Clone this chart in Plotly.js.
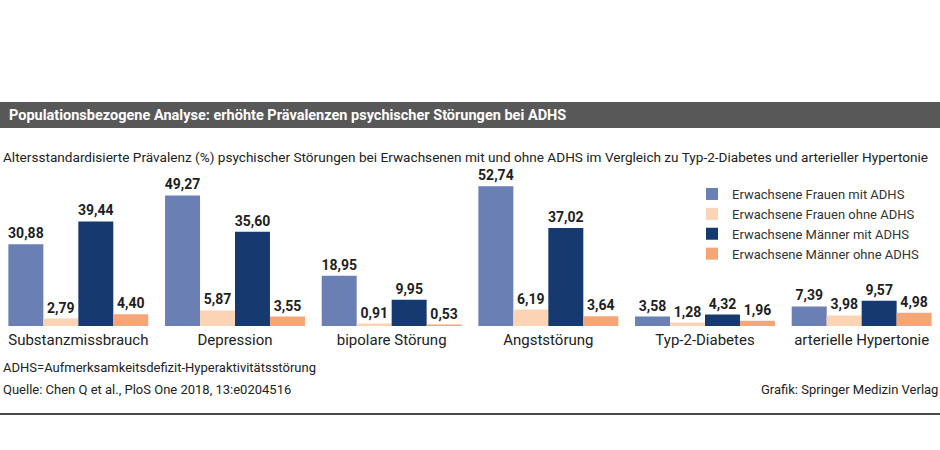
<!DOCTYPE html>
<html>
<head>
<meta charset="utf-8">
<script src="https://cdn.plot.ly/plotly-3.0.1.min.js"></script>
<style>
  html, body { margin: 0; padding: 0; background: #fff; }
  #chart { width: 940px; height: 450px; }
</style>
</head>
<body>
<div id="chart"></div>
<script>
// Kategorien (x-Achse)
const categories = [
  "Substanzmissbrauch", "Depression", "bipolare Störung",
  "Angststörung", "Typ-2-Diabetes", "arterielle Hypertonie"
];

// Altersstandardisierte Prävalenz (%) je Gruppe
const frauenMitADHS  = [30.88, 49.27, 18.95, 52.74, 3.58, 7.39];
const frauenOhneADHS = [2.79, 5.87, 0.91, 6.19, 1.28, 3.98];
const maennerMitADHS = [39.44, 35.60, 9.95, 37.02, 4.32, 9.57];
const maennerOhneADHS = [4.40, 3.55, 0.53, 3.64, 1.96, 4.98];

const seriesNames = [
  "Erwachsene Frauen mit ADHS",
  "Erwachsene Frauen ohne ADHS",
  "Erwachsene Männer mit ADHS",
  "Erwachsene Männer ohne ADHS"
];
const seriesColors = ["#6a7fb3", "#fbd3b5", "#163a70", "#f5a677"];

// Seitengeometrie in Pixeln
const W = 940, H = 450;
const M = { l: 0, r: 0, t: 167, b: 124 };
const plotH = H - M.t - M.b;

// Pixelkoordinate (von oben) -> Papierkoordinate
const py = p => (H - M.b - p) / plotH;
const px = p => (p - M.l) / (W - M.l - M.r);

const fmt = v => v.toFixed(2).replace(".", ",");

const seriesValues = [frauenMitADHS, frauenOhneADHS, maennerMitADHS, maennerOhneADHS];

const traces = seriesValues.map((vals, i) => ({
  type: "bar",
  name: seriesNames[i],
  x: categories,
  y: vals,
  text: vals.map(fmt),
  textposition: "outside",
  constraintext: "none",
  textfont: { family: "Roboto, sans-serif", size: 14, color: "#1e1e1e", weight: 700 },
  cliponaxis: false,
  marker: { color: seriesColors[i] },
  hoverinfo: "x+y+name"
}));

const layout = {
  width: W,
  height: H,
  margin: M,
  paper_bgcolor: "#ffffff",
  plot_bgcolor: "#ffffff",
  font: { family: "Roboto, sans-serif", color: "#222" },
  barmode: "group",
  bargap: 0.107,
  bargroupgap: 0,
  title: {
    text: "<b>Populationsbezogene Analyse: erhöhte Prävalenzen psychischer Störungen bei ADHS</b>",
    font: { family: "Roboto, sans-serif", size: 14.5, color: "#ffffff" },
    xref: "container", yref: "container",
    x: 9 / W, xanchor: "left",
    y: 1 - 115 / H, yanchor: "middle"
  },
  xaxis: {
    type: "category",
    range: [-0.5, 5.5],
    showgrid: false,
    zeroline: false,
    showline: false,
    ticks: "",
    ticklabelstandoff: 3,
    tickfont: { family: "Roboto, sans-serif", size: 15, color: "#222" },
    fixedrange: true
  },
  yaxis: {
    range: [0, 60],
    visible: false,
    fixedrange: true
  },
  showlegend: true,
  legend: {
    x: px(692), xanchor: "left",
    y: py(179), yanchor: "top",
    font: { family: "Roboto, sans-serif", size: 13, color: "#333" },
    bgcolor: "rgba(0,0,0,0)",
    traceorder: "normal"
  },
  shapes: [
    // Kopfbalken
    { type: "rect", xref: "paper", yref: "paper",
      x0: px(0), x1: px(940), y0: py(128), y1: py(102),
      fillcolor: "#585858", line: { width: 0 }, layer: "below" },
    // Trennlinie unten
    { type: "line", xref: "paper", yref: "paper",
      x0: px(0), x1: px(940), y0: py(414), y1: py(414),
      line: { color: "#4a4a4a", width: 2 } }
  ],
  annotations: [
    { text: "Altersstandardisierte Prävalenz (%) psychischer Störungen bei Erwachsenen mit und ohne ADHS im Vergleich zu Typ-2-Diabetes und arterieller Hypertonie",
      xref: "paper", yref: "paper", x: px(1), y: py(157),
      xanchor: "left", yanchor: "middle", showarrow: false,
      font: { family: "Roboto, sans-serif", size: 13.6, color: "#222" } },
    { text: "ADHS=Aufmerksamkeitsdefizit-Hyperaktivitätsstörung",
      xref: "paper", yref: "paper", x: px(1), y: py(367),
      xanchor: "left", yanchor: "middle", showarrow: false,
      font: { family: "Roboto, sans-serif", size: 13, color: "#222" } },
    { text: "Quelle: Chen Q et al., PloS One 2018, 13:e0204516",
      xref: "paper", yref: "paper", x: px(1), y: py(389),
      xanchor: "left", yanchor: "middle", showarrow: false,
      font: { family: "Roboto, sans-serif", size: 13, color: "#222" } },
    { text: "Grafik: Springer Medizin Verlag",
      xref: "paper", yref: "paper", x: px(940), y: py(389),
      xanchor: "right", yanchor: "middle", showarrow: false,
      font: { family: "Roboto, sans-serif", size: 13, color: "#222" } }
  ]
};

Plotly.newPlot("chart", traces, layout, { displayModeBar: false, staticPlot: true });
</script>
</body>
</html>
